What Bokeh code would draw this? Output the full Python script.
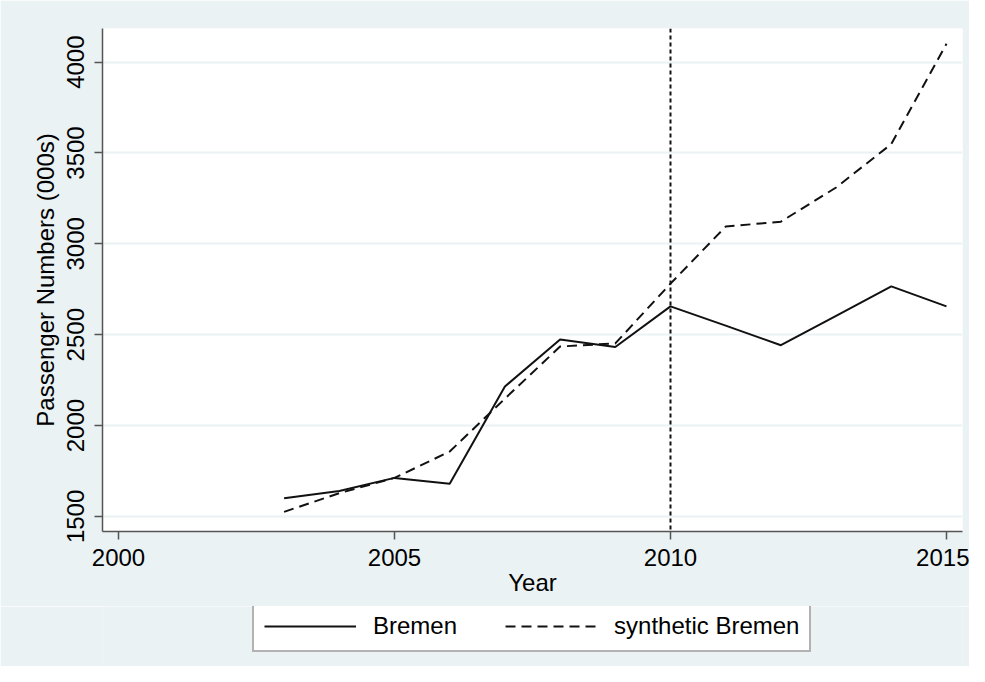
from bokeh.plotting import figure
from bokeh.layouts import column
from bokeh.models import Range1d, Span, Legend, LegendItem, FixedTicker
from bokeh.embed import file_html
from bokeh.resources import INLINE

# ---- data ----
years = [2003, 2004, 2005, 2006, 2007, 2008, 2009, 2010, 2011, 2012, 2013, 2014, 2015]
bremen = [1600, 1640, 1712, 1680, 2215, 2474, 2432, 2656, 2550, 2442, 2604, 2766, 2656]
synthetic = [1525, 1628, 1712, 1857, 2148, 2435, 2452, 2781, 3095, 3122, 3310, 3549, 4101]
x_ticks = [2000, 2005, 2010, 2015]
y_ticks = [1500, 2000, 2500, 3000, 3500, 4000]
treat_year = 2010
series_names = ["Bremen", "synthetic Bremen"]

BG = "#EAF2F3"
FONT = "Liberation Sans"
LINE = "#111111"
DASH = "10 6"

p = figure(width=969, height=606, output_backend="svg", toolbar_location=None,
           x_range=Range1d(1999.71, 2015.29), y_range=Range1d(1417, 4185),
           min_border_left=102, min_border_right=7, min_border_top=28, min_border_bottom=75)
p.background_fill_color = "white"
p.border_fill_color = BG
p.outline_line_color = None

p.line(years, bremen, line_color=LINE, line_width=2)
p.line(years, synthetic, line_color=LINE, line_width=2, line_dash=DASH)

p.add_layout(Span(location=treat_year, dimension="height", line_color=LINE,
                  line_width=2, line_dash="4 3"))

p.xgrid.visible = False
p.ygrid.grid_line_color = BG
p.ygrid.grid_line_width = 2
p.ygrid.ticker = FixedTicker(ticks=y_ticks)

for ax in (p.xaxis[0], p.yaxis[0]):
    ax.axis_line_color = "#555555"
    ax.axis_line_width = 1.5
    ax.major_tick_line_color = "#555555"
    ax.major_tick_line_width = 1.5
    ax.major_tick_out = 8
    ax.major_tick_in = 0
    ax.minor_tick_line_color = None
    ax.major_label_text_font = FONT
    ax.major_label_text_font_size = "24px"
    ax.major_label_text_color = "black"
    ax.axis_label_text_font = FONT
    ax.axis_label_text_font_size = "24px"
    ax.axis_label_text_font_style = "normal"
    ax.axis_label_text_color = "black"

p.xaxis.ticker = FixedTicker(ticks=x_ticks)
p.yaxis.ticker = FixedTicker(ticks=y_ticks)
p.xaxis.axis_label = "Year"
p.yaxis.axis_label = "Passenger Numbers (000s)"
p.yaxis.major_label_orientation = "vertical"
p.xaxis.major_label_standoff = 9
p.xaxis.axis_label_standoff = 0
p.yaxis.major_label_standoff = 10
p.yaxis.axis_label_standoff = 6

# ---- legend strip below the chart (series lines lie outside its view) ----
leg = figure(width=969, height=60, output_backend="svg", toolbar_location=None,
             x_axis_type=None, y_axis_type=None, min_border=0,
             x_range=Range1d(0, 1), y_range=Range1d(0, 1))
leg.background_fill_color = BG
leg.border_fill_color = BG
leg.outline_line_color = None
leg.grid.visible = False
g1 = leg.line(years, bremen, line_color=LINE, line_width=2)
g2 = leg.line(years, synthetic, line_color=LINE, line_width=2, line_dash=DASH)

legend = Legend(items=[LegendItem(label=series_names[0], renderers=[g1]),
                       LegendItem(label=series_names[1], renderers=[g2])],
                orientation="horizontal", location=(150, 14))
legend.label_text_font = FONT
legend.label_text_font_size = "24px"
legend.label_text_color = "black"
legend.glyph_width = 92
legend.glyph_height = 24
legend.label_height = 24
legend.label_standoff = 17
legend.spacing = 48
legend.padding = 10
legend.margin = 0
legend.border_line_color = "#666666"
legend.border_line_width = 2
legend.background_fill_color = "white"
legend.background_fill_alpha = 1
leg.add_layout(legend)

layout = column(p, leg, spacing=0)
open("out.html", "w").write(file_html(layout, INLINE))
